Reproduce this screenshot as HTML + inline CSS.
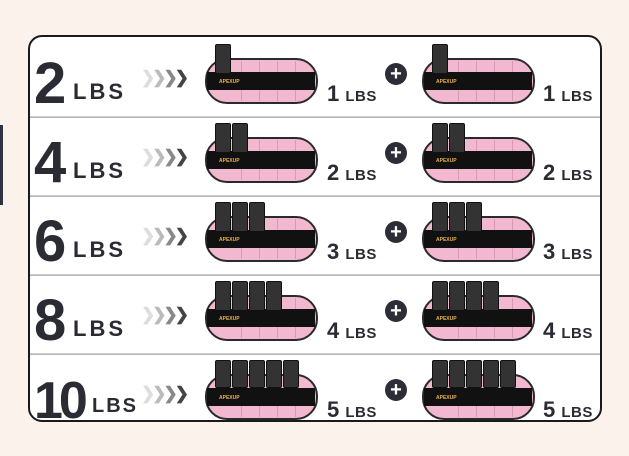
<!DOCTYPE html>
<html><head><meta charset="utf-8"><style>
*{margin:0;padding:0;box-sizing:border-box}
body{width:629px;height:456px;background:#fcf2ec;position:relative;overflow:hidden;font-family:"Liberation Sans",sans-serif;color:#2b2b33}
.card{position:absolute;left:28px;top:35px;width:574px;height:387px;background:#fff;border:2px solid #1a1a1a;border-radius:14px}
.side{position:absolute;left:0;top:125px;width:3px;height:80px;background:#2f3242}
.a{position:absolute}
.div{position:absolute;left:30px;width:570px;height:2px;background:linear-gradient(#d8d8d8,#aaa)}
.big{font-weight:bold;font-size:58px;line-height:1;letter-spacing:-2px}
.lbs{font-weight:bold;font-size:22px;letter-spacing:3px}
.chev{font-weight:bold;font-size:17px;letter-spacing:-3px;color:#444}
.pink{background:#f2b8d0;border:2px solid #2a2a2a;border-radius:22px;overflow:hidden}
.band{background:#111}
.plate{background:#333;border:1px solid #111;border-radius:2px}
.seg{background:#d998b5;width:1px}
.lab{font-weight:bold;font-size:22px}
.lab span{font-size:15px;letter-spacing:0.5px}
.plus{width:22px;height:22px;border-radius:50%;background:#2d2d38;color:#fff;font-weight:bold;font-size:20px;line-height:22px;text-align:center}
.logo{color:#e8b44a;font-size:5px;font-weight:bold}
</style></head><body>
<div class="side"></div>
<div class="card"></div>
<div id="c"></div>
<script>
var h='';
var nums=['2','4','6','8','10'],per=['1','2','3','4','5'];
for(var k=0;k<5;k++){
 var o=79*k;
 var ny=o+55;
 var st=k==4?'font-size:52px;letter-spacing:-4px;top:'+(ny+4)+'px':'top:'+ny+'px';
 h+='<div class="a big" style="left:34px;'+st+'">'+nums[k]+'</div>';
 var lx=k==4?92:73;
 h+='<div class="a lbs" style="left:'+lx+'px;top:'+(o+79)+'px;'+(k==4?'font-size:20px;letter-spacing:2px;':'')+'">LBS</div>';
 h+='<div class="a chev" style="left:141px;top:'+(o+68)+'px"><span style="color:#ddd">&#x276F;</span><span style="color:#bbb">&#x276F;</span><span style="color:#888">&#x276F;</span><span>&#x276F;</span></div>';
 [[205,327],[422,543]].forEach(function(p){
  var x=p[0];
  h+='<div class="a pink" style="left:'+x+'px;top:'+(o+58)+'px;width:113px;height:46px"></div>';
  for(var s=1;s<5;s++)h+='<div class="a seg" style="left:'+(x+18+s*18)+'px;top:'+(o+61)+'px;height:40px"></div>';
  h+='<div class="a band" style="left:'+(x+2)+'px;top:'+(o+72)+'px;width:108px;height:18px"></div>';
  h+='<div class="a logo" style="left:'+(x+14)+'px;top:'+(o+79)+'px">APEXUP</div>';
  for(var q=0;q<=k;q++)h+='<div class="a plate" style="left:'+(x+10+q*17)+'px;top:'+(o+44)+'px;width:16px;height:'+(k==4?28:30)+'px"></div>';
  h+='<div class="a lab" style="left:'+p[1]+'px;top:'+(o+81)+'px">'+per[k]+' <span>LBS</span></div>';
 });
 h+='<div class="a plus" style="left:385px;top:'+(o+63)+'px">+</div>';
 if(k<4)h+='<div class="div" style="top:'+(o+116)+'px"></div>';
}
document.getElementById('c').innerHTML=h;
</script>
</body></html>
